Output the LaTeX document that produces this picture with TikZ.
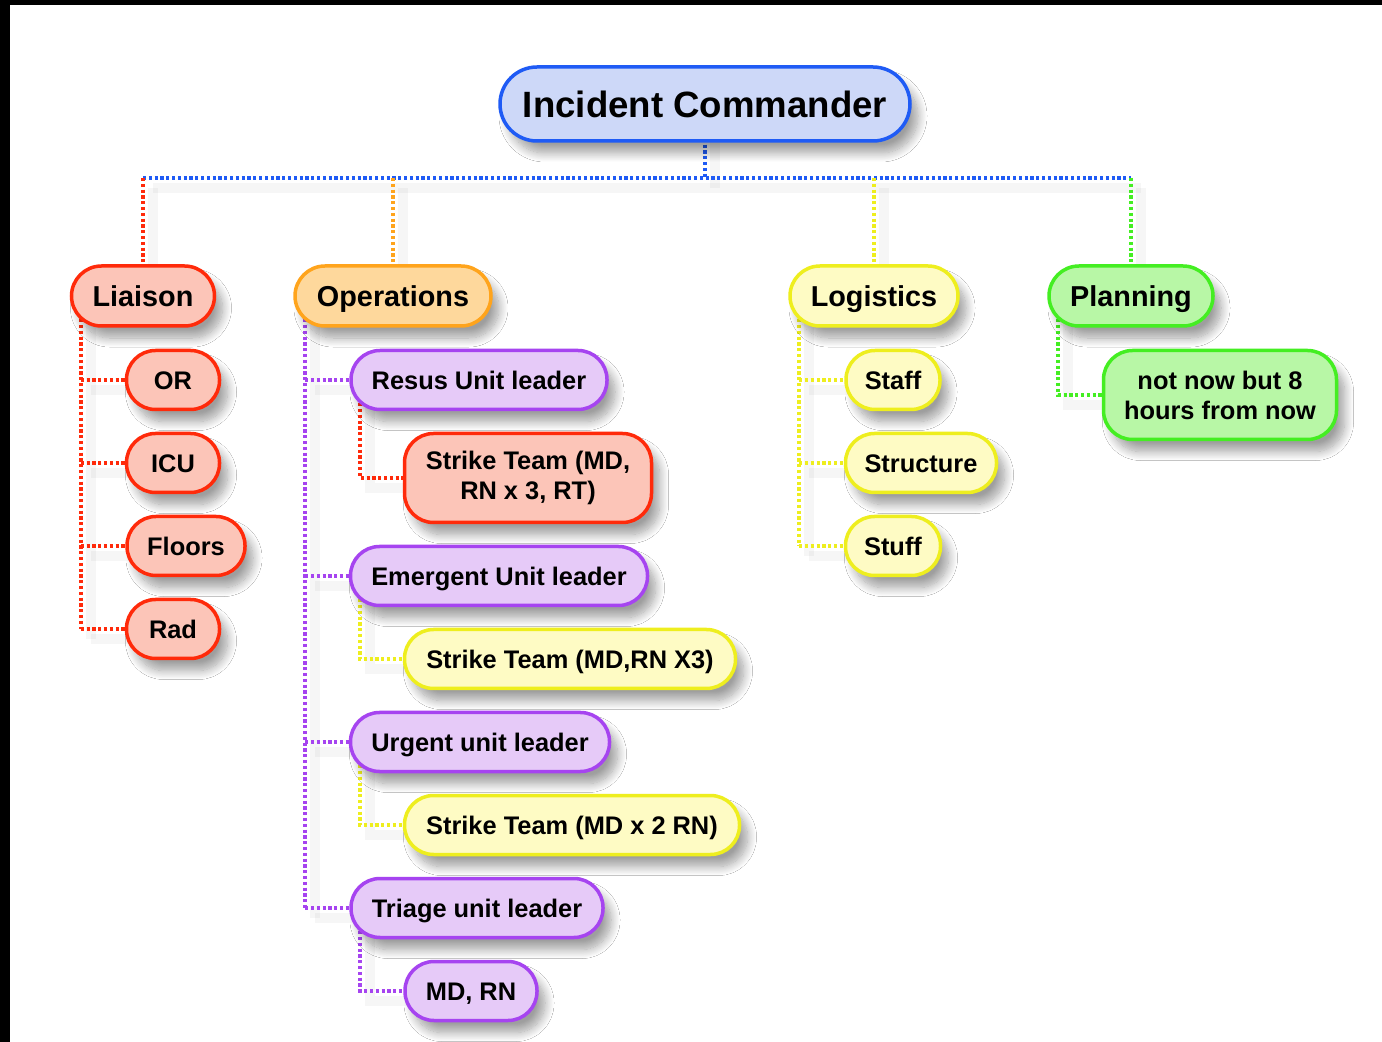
\documentclass[tikz,border=0pt]{standalone}
\usepackage{fontspec}
\setmainfont{Liberation Sans}
\usetikzlibrary{shadows.blur,calc,backgrounds}

% border / fill colour pairs
\definecolor{blueB}{HTML}{1F5BF5}\definecolor{blueF}{HTML}{CDD8F8}
\definecolor{redB}{HTML}{FF2A0A}\definecolor{redF}{HTML}{FCC5B8}
\definecolor{orgB}{HTML}{FFA41C}\definecolor{orgF}{HTML}{FED89C}
\definecolor{yelB}{HTML}{EEEE1E}\definecolor{yelF}{HTML}{FEFBC4}
\definecolor{grnB}{HTML}{44EE22}\definecolor{grnF}{HTML}{B8F7A6}
\definecolor{purB}{HTML}{A644F0}\definecolor{purF}{HTML}{E6CAF8}

\tikzset{
  pill/.style={draw=#1B, fill=#1F, line width=1.75pt, rectangle,
    rounded corners=14.5pt, inner sep=0pt, align=center, text=black,
    blur shadow={shadow xshift=4pt, shadow yshift=-6pt,
      shadow blur radius=4.5pt, shadow blur steps=14, shadow opacity=38}},
  boss/.style={pill=#1, text height=14.6pt, text depth=1.3pt,
    minimum height=37pt, rounded corners=18.5pt,
    font=\fontsize{18.3}{21}\selectfont\bfseries},
  head/.style={pill=#1, text height=11.5pt, text depth=1pt,
    minimum height=30pt, rounded corners=15pt,
    font=\fontsize{14.4}{17}\selectfont\bfseries},
  leaf/.style={pill=#1, text height=10.2pt, text depth=0.9pt,
    minimum height=29.5pt,
    font=\fontsize{12.7}{15}\selectfont\bfseries},
  twoline/.style={pill=#1, minimum height=44.5pt,
    font=\fontsize{12.7}{15}\selectfont\bfseries},
  link/.style={draw=#1, line width=2.2pt, dash pattern=on 1.6pt off 1.3pt},
}

% all connectors of the chart
\newcommand\chartlinks{%
  \draw[link=blueB] (ic.center) -- (bus);
  \draw[link=blueB] (bus -| liaison.north) -- (bus -| planning.north);
  \draw[link=redB] (bus -| liaison.north) -- (liaison.center);
  \draw[link=orgB] (bus -| operations.north) -- (operations.center);
  \draw[link=yelB] (bus -| logistics.north) -- (logistics.center);
  \draw[link=grnB] (bus -| planning.north) -- (planning.center);
  % liaison branch
  \draw[link=redB] (lv) -- (lv |- rad.west);
  \draw[link=redB] (lv |- or.west) -- (or.west);
  \draw[link=redB] (lv |- icu.west) -- (icu.west);
  \draw[link=redB] (lv |- floors.west) -- (floors.west);
  \draw[link=redB] (lv |- rad.west) -- (rad.west);
  % operations branch
  \draw[link=purB] (ov) -- (ov |- triage.west);
  \draw[link=purB] (ov |- resus.west) -- (resus.west);
  \draw[link=purB] (ov |- emergent.west) -- (emergent.west);
  \draw[link=purB] (ov |- urgent.west) -- (urgent.west);
  \draw[link=purB] (ov |- triage.west) -- (triage.west);
  \draw[link=redB] (rv) -- (rv |- st1.west) -- (st1.west);
  \draw[link=yelB] (ev) -- (ev |- st2.west) -- (st2.west);
  \draw[link=yelB] (uv) -- (uv |- st3.west) -- (st3.west);
  \draw[link=purB] (tv) -- (tv |- mdrn.west) -- (mdrn.west);
  % logistics branch
  \draw[link=yelB] (gv) -- (gv |- stuff.west);
  \draw[link=yelB] (gv |- staff.west) -- (staff.west);
  \draw[link=yelB] (gv |- structure.west) -- (structure.west);
  \draw[link=yelB] (gv |- stuff.west) -- (stuff.west);
  % planning branch
  \draw[link=grnB] (pv) -- (pv |- notnow.west) -- (notnow.west);
}

\begin{document}
\begin{tikzpicture}[x=0.5pt, y=-0.5pt]
  % top level
  \node[boss=blue, minimum width=205pt] (ic) at (705,104) {Incident Commander};
  \coordinate (bus) at (705,178);

  % section heads
  \node[head=red, minimum width=71.5pt] (liaison) at (143,296) {Liaison};
  \node[head=org, minimum width=98pt] (operations) at (393,296) {Operations};
  \node[head=yel, minimum width=84pt] (logistics) at (874,296) {Logistics};
  \node[head=grn, minimum width=82pt] (planning) at (1131,296) {Planning};

  % liaison units
  \node[leaf=red, minimum width=46.5pt] (or) at (173,380) {OR};
  \node[leaf=red, minimum width=46.5pt] (icu) at (173,463) {ICU};
  \node[leaf=red, minimum width=59pt] (floors) at (186,546) {Floors};
  \node[leaf=red, minimum width=46.5pt] (rad) at (173,629) {Rad};

  % operations units
  \node[leaf=pur, minimum width=128pt] (resus) at (479,380) {Resus Unit leader};
  \node[twoline=red, minimum width=123.5pt] (st1) at (528,478)
    {Strike Team (MD,\\RN x 3, RT)};
  \node[leaf=pur, minimum width=148.5pt] (emergent) at (499,576) {Emergent Unit leader};
  \node[leaf=yel, minimum width=165.5pt] (st2) at (570,659) {Strike Team (MD,RN X3)};
  \node[leaf=pur, minimum width=129.5pt] (urgent) at (480,742) {Urgent unit leader};
  \node[leaf=yel, minimum width=167.5pt] (st3) at (572,825) {Strike Team (MD x 2 RN)};
  \node[leaf=pur, minimum width=126pt] (triage) at (477,908) {Triage unit leader};
  \node[leaf=pur, minimum width=66pt] (mdrn) at (471,991) {MD, RN};

  % logistics units
  \node[leaf=yel, minimum width=47pt] (staff) at (893,380) {Staff};
  \node[leaf=yel, minimum width=75.5pt] (structure) at (921,463) {Structure};
  \node[leaf=yel, minimum width=47.5pt] (stuff) at (893,546) {Stuff};

  % planning unit
  \node[twoline=grn, minimum width=116.5pt] (notnow) at (1220,395)
    {not now but 8\\hours from now};

  % branch spines
  \coordinate (lv) at ($(liaison.west)+(11,0)$);
  \coordinate (ov) at ($(operations.west)+(12,0)$);
  \coordinate (rv) at ($(resus.west)+(11,0)$);
  \coordinate (ev) at ($(emergent.west)+(11,0)$);
  \coordinate (uv) at ($(urgent.west)+(11,0)$);
  \coordinate (tv) at ($(triage.west)+(11,0)$);
  \coordinate (gv) at ($(logistics.west)+(11,0)$);
  \coordinate (pv) at ($(planning.west)+(11,0)$);

  \begin{pgfonlayer}{background}
    % page and frame strips
    \fill[white] (0,0) rectangle (1382,1042);
    \fill[black] (0,0) rectangle (1382,5);
    \fill[black] (0,0) rectangle (10,1042);
    % soft shadows of the connectors
    \begin{scope}[transform canvas={shift={(5pt,-5pt)}},
        link/.style={draw=black, draw opacity=0.035, line width=5pt}]
      \chartlinks
    \end{scope}
    \chartlinks
  \end{pgfonlayer}
  \useasboundingbox (0,0) rectangle (1382,1042);
\end{tikzpicture}
\end{document}
